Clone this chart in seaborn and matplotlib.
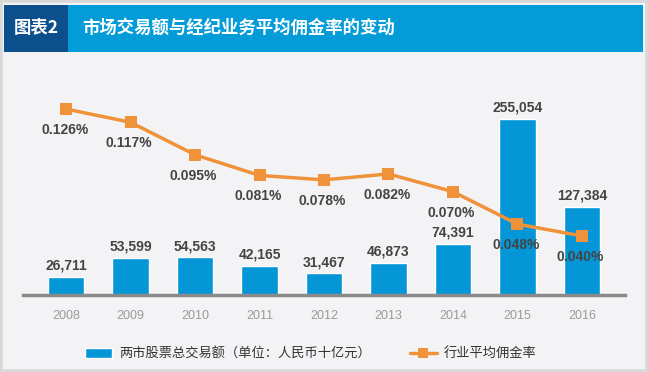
import numpy as np
import pandas as pd
import matplotlib.pyplot as plt
import seaborn as sns
from matplotlib.patches import Rectangle
from matplotlib.lines import Line2D

# ============================================================
# DADOS
# ============================================================

anos = ['2008', '2009', '2010', '2011', '2012', '2013', '2014', '2015', '2016']
volume = [26711, 53599, 54563, 42165, 31467, 46873, 74391, 255054, 127384]
comissao = [0.126, 0.117, 0.095, 0.081, 0.078, 0.082, 0.070, 0.048, 0.040]

titulo_tag = '图表2'
titulo = '市场交易额与经纪业务平均佣金率的变动'
legenda_barra = '两市股票总交易额（单位：人民币十亿元）'
legenda_linha = '行业平均佣金率'

AZUL = '#0596d8'
LARANJA = '#f0923a'
FUNDO = '#f3f3f6'
TEXTO = '#444444'
CJK = ['Noto Sans CJK SC', 'DejaVu Sans']

sns.set_theme(style='white')
plt.rcParams['font.family'] = ['Liberation Sans', 'Noto Sans CJK SC', 'DejaVu Sans']

df = pd.DataFrame({'ano': anos, 'volume': volume, 'comissao': comissao})
df['x'] = np.arange(len(df))

fig = plt.figure(figsize=(6.48, 3.72), dpi=100, facecolor=FUNDO)

# moldura e barra de título
fig.patches.append(Rectangle((0, 0), 1, 1, transform=fig.transFigure,
                             facecolor='none', edgecolor='#d8d8d8', lw=4))
fig.patches.append(Rectangle((4 / 648, 1 - 52 / 372), 639 / 648, 47 / 372,
                             transform=fig.transFigure, facecolor='#039cd9',
                             edgecolor='none'))
fig.patches.append(Rectangle((4 / 648, 1 - 52 / 372), 64 / 648, 47 / 372,
                             transform=fig.transFigure, facecolor='#0b4f8d',
                             edgecolor='none'))
fig.text(36 / 648, 1 - 28 / 372, titulo_tag, color='white', fontsize=12.5,
         fontweight='bold', ha='center', va='center', family=CJK)
fig.text(82 / 648, 1 - 28 / 372, titulo, color='white', fontsize=12.5,
         fontweight='bold', ha='left', va='center', family=CJK)

# eixos
ax = fig.add_axes([23 / 648, 77 / 372, 602 / 648, 230 / 372])
ax.set_facecolor('none')
sns.barplot(data=df, x='x', y='volume', color=AZUL, width=0.57,
            saturation=1, ax=ax, native_scale=True)
ax.set_xlim(-0.667, 8.667)
ax.set_ylim(0, 255054 * 230 / 176)
for xi, v in zip(df['x'], df['volume']):
    ax.annotate(f'{v:,}', (xi, v), xytext=(0, 3), textcoords='offset points',
                ha='center', va='bottom', fontsize=10, fontweight='bold',
                color=TEXTO)

ax2 = ax.twinx()
sns.lineplot(data=df, x='x', y='comissao', color=LARANJA, lw=2.5,
             marker='s', markersize=8, markeredgewidth=0, ax=ax2)
ax2.set_ylim(0, 0.126 * 230 / 186)
ax2.set_xlim(-0.667, 8.667)
for xi, c in zip(df['x'], df['comissao']):
    ax2.annotate(f'{c:.3f}%', (xi, c), xytext=(-1, -10),
                 textcoords='offset points', ha='center', va='top',
                 fontsize=10, fontweight='bold', color=TEXTO)

for a in (ax, ax2):
    a.set_yticks([])
    a.set_ylabel('')
    a.set_xlabel('')
    for s in ('top', 'left', 'right'):
        a.spines[s].set_visible(False)
ax2.spines['bottom'].set_visible(False)
ax.spines['bottom'].set_color('#8a8a8a')
ax.spines['bottom'].set_linewidth(2.5)

ax.set_xticks(df['x'])
ax.set_xticklabels(anos, fontsize=9, color='#9a9a9a')
ax.tick_params(axis='x', length=0, pad=11)

# legenda
leg_kw = dict(loc='center left', frameon=False, borderpad=0,
              handlelength=2.1, handleheight=0.7, handletextpad=0.5,
              prop={'family': CJK, 'size': 9.5}, labelcolor='#333333')
fig.legend([Rectangle((0, 0), 1, 1, facecolor=AZUL)], [legenda_barra],
           bbox_to_anchor=(78 / 648, 1 - 354 / 372), **leg_kw)
fig.legend([Line2D([], [], color=LARANJA, lw=2.5, marker='s', markersize=7,
                   markeredgewidth=0)], [legenda_linha],
           bbox_to_anchor=(403 / 648, 1 - 354 / 372), **leg_kw)

fig.savefig('out.png', dpi=100, facecolor=FUNDO)
